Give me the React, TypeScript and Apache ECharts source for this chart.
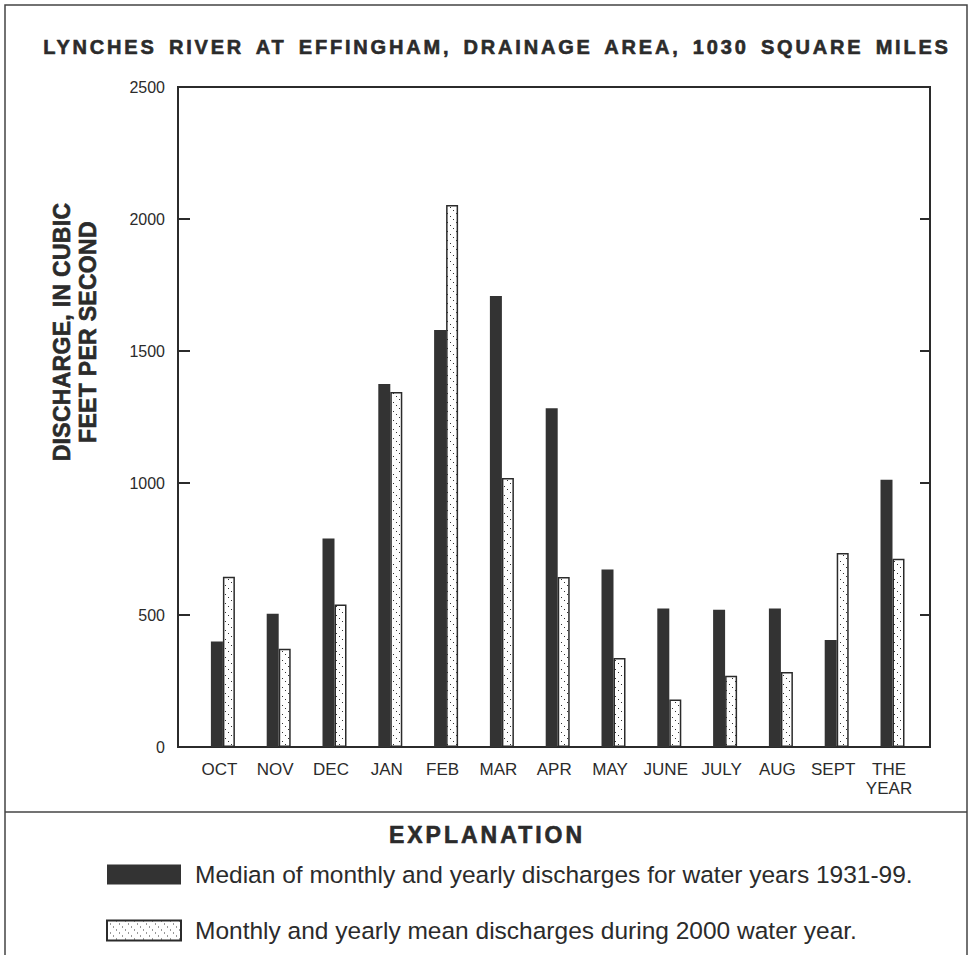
import React, { useEffect, useRef } from "react";
import * as echarts from "echarts";

// Monthly categories of the water year plus the annual figure
const categories = ["OCT", "NOV", "DEC", "JAN", "FEB", "MAR", "APR", "MAY", "JUNE", "JULY", "AUG", "SEPT", "THE\nYEAR"];
// Median of monthly and yearly discharges, water years 1931-99 (cubic feet per second)
const medianDischarge = [400, 505, 790, 1375, 1580, 1708, 1283, 672, 525, 520, 525, 405, 1012];
// Monthly and yearly mean discharges, 2000 water year (cubic feet per second)
const meanDischarge2000 = [645, 372, 540, 1345, 2053, 1019, 644, 337, 180, 270, 284, 735, 713];

const titleText = "LYNCHES RIVER AT EFFINGHAM, DRAINAGE AREA, 1030 SQUARE MILES";
const yNameLines = ["DISCHARGE, IN CUBIC", "FEET PER SECOND"];
const legendHeading = "EXPLANATION";
const medianName = "Median of monthly and yearly discharges for water years 1931-99.";
const meanName = "Monthly and yearly mean discharges during 2000 water year.";

const yMin = 0;
const yMax = 2500;
const yStep = 500;

const INK = "#2b2b2b";
const BAR_DARK = "#333333";

// small tile of dots laid out on a diagonal, repeated to hatch the 2000 bars
function makeHatch(): string {
  const size = 9;
  const c = document.createElement("canvas");
  c.width = size;
  c.height = size;
  const ctx = c.getContext("2d")!;
  ctx.fillStyle = "#ffffff";
  ctx.fillRect(0, 0, size, size);
  ctx.fillStyle = "#333333";
  ctx.fillRect(0, 0, 1, 1);
  ctx.fillRect(3, 3, 1, 1);
  ctx.fillRect(6, 6, 1, 1);
  return c.toDataURL();
}

export default function App() {
  const ref = useRef<HTMLDivElement>(null);

  useEffect(() => {
    if (!ref.current) return;
    const chart = echarts.init(ref.current, null, { renderer: "svg", width: 972, height: 955 });
    const hatch = {
      image: makeHatch(),
      repeat: "repeat",
      imageWidth: 9,
      imageHeight: 9,
    } as any;

    const heading = (text: string, x: number, y: number, size: number, family: string, rotation = 0) => ({
      type: "text",
      x,
      y,
      rotation,
      style: {
        text,
        fill: INK,
        stroke: INK,
        lineWidth: 0.6,
        fontSize: size,
        fontWeight: "bold",
        fontFamily: family,
        align: "center",
        verticalAlign: "middle",
      },
    });

    const option: any = {
      animation: false,
      backgroundColor: "#ffffff",
      textStyle: { fontFamily: "Liberation Sans, Arial, sans-serif", color: INK },
      grid: [
        {
          // frame of the plot
          left: 178,
          top: 87,
          width: 752,
          height: 660,
          show: true,
          borderColor: INK,
          borderWidth: 2,
          backgroundColor: "transparent",
        },
        {
          // bar layout area
          left: 195,
          top: 87,
          width: 725.4,
          height: 660,
        },
      ],
      xAxis: [
        { gridIndex: 0, type: "category", data: [], show: false },
        {
          gridIndex: 1,
          type: "category",
          data: categories,
          axisLine: { show: false },
          axisTick: { show: false },
          axisLabel: {
            interval: 0,
            color: INK,
            fontSize: 17,
            lineHeight: 19,
            margin: 13,
            padding: [0, 7, 0, 0],
            fontFamily: "Liberation Sans, Arial, sans-serif",
          },
        },
      ],
      yAxis: [
        {
          gridIndex: 0,
          type: "value",
          min: yMin,
          max: yMax,
          interval: yStep,
          position: "left",
          axisLine: { show: false },
          splitLine: { show: false },
          axisTick: { show: true, inside: true, length: 12, lineStyle: { color: INK, width: 2 } },
          axisLabel: {
            color: INK,
            fontSize: 16,
            margin: 13,
            fontFamily: "Liberation Sans, Arial, sans-serif",
            formatter: (v: number) => String(v),
          },
        },
        {
          gridIndex: 0,
          type: "value",
          min: yMin,
          max: yMax,
          interval: yStep,
          position: "right",
          axisLine: { show: false },
          splitLine: { show: false },
          axisTick: { show: true, inside: true, length: 10, lineStyle: { color: INK, width: 2 } },
          axisLabel: { show: false },
        },
        {
          gridIndex: 1,
          type: "value",
          min: yMin,
          max: yMax,
          interval: yStep,
          show: false,
        },
      ],
      legend: {
        orient: "vertical",
        left: 101,
        top: 857,
        itemWidth: 74,
        itemHeight: 20,
        itemGap: 31,
        icon: "rect",
        selectedMode: false,
        textStyle: {
          color: INK,
          fontSize: 24.5,
          fontFamily: "Liberation Sans Narrow, Arial Narrow, Liberation Sans, sans-serif",
          padding: [0, 0, 0, 9],
        },
        data: [medianName, meanName],
      },
      series: [
        {
          name: medianName,
          type: "bar",
          xAxisIndex: 1,
          yAxisIndex: 2,
          data: medianDischarge,
          barWidth: 12,
          barGap: "0%",
          itemStyle: { color: BAR_DARK },
        },
        {
          name: meanName,
          type: "bar",
          xAxisIndex: 1,
          yAxisIndex: 2,
          data: meanDischarge2000,
          barWidth: 12,
          barGap: "0%",
          itemStyle: { color: hatch, borderColor: INK, borderWidth: 1.5 },
        },
      ],
      graphic: [
        {
          type: "rect",
          silent: true,
          shape: { x: 5, y: 5, width: 962, height: 1000 },
          style: { fill: "none", stroke: "#444", lineWidth: 1.5 },
        },
        {
          type: "line",
          silent: true,
          shape: { x1: 5, y1: 812, x2: 967, y2: 812 },
          style: { stroke: "#444", lineWidth: 1.5 },
        },
        heading(titleText, 497, 47, 20, "Liberation Sans, Helvetica"),
        heading(yNameLines[0], 62, 332, 23, "Liberation Sans, FreeSans", Math.PI / 2),
        heading(yNameLines[1], 88, 332, 23, "Liberation Sans, FreeSans", Math.PI / 2),
        heading(legendHeading, 487, 835, 23, "Liberation Sans, Nimbus Sans"),
      ],
    };

    chart.setOption(option);
    return () => chart.dispose();
  }, []);

  return (
    <>
      <style>{`
        .lynches-chart text[style*="Helvetica"] { letter-spacing: 2.8px; word-spacing: 4px; }
        .lynches-chart text[style*="Nimbus"] { letter-spacing: 3px; }
        .lynches-chart text[style*="FreeSans"] { letter-spacing: 0.3px; }
      `}</style>
      <div
        ref={ref}
        className="lynches-chart"
        style={{ position: "fixed", left: 0, top: 0, width: 972, height: 955, background: "#fff" }}
      />
    </>
  );
}
